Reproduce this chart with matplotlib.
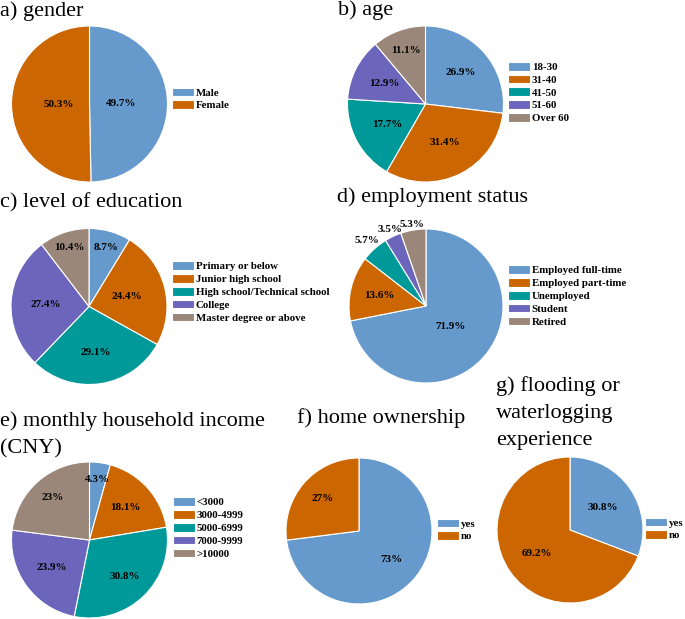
import matplotlib
matplotlib.use("Agg")
import matplotlib.pyplot as plt
import numpy as np

plt.rcParams['font.family'] = ['Liberation Serif', 'DejaVu Serif']

W, H = 685, 619

# colours used by all pies
blue = '#6699cc'
orange = '#cc6600'
teal = '#009999'
purple = '#6b66bb'
brown = '#9a8779'
five = [blue, orange, teal, purple, brown]

# data
gender_labels = ['Male', 'Female']
gender_values = [49.7, 50.3]

age_labels = ['18-30', '31-40', '41-50', '51-60', 'Over 60']
age_values = [26.9, 31.4, 17.7, 12.9, 11.1]

edu_labels = ['Primary or below', 'Junior high school', 'High school/Technical school',
              'College', 'Master degree or above']
edu_values = [8.7, 24.4, 29.1, 27.4, 10.4]

emp_labels = ['Employed full-time', 'Employed part-time', 'Unemployed', 'Student', 'Retired']
emp_values = [71.9, 13.6, 5.7, 3.5, 5.3]

inc_labels = ['<3000', '3000-4999', '5000-6999', '7000-9999', '>10000']
inc_values = [4.3, 18.1, 30.8, 23.9, 23]

home_labels = ['yes', 'no']
home_values = [73, 27]

flood_labels = ['yes', 'no']
flood_values = [30.8, 69.2]

fig = plt.figure(figsize=(W / 100, H / 100), dpi=100)


def draw_pie(cx, cy, r, values, labels, cols, dist, title, tx, ty, lx, ly):
    ax = fig.add_axes([(cx - r) / W, 1 - (cy + r) / H, 2 * r / W, 2 * r / H])
    wedges, _ = ax.pie(values, colors=cols, startangle=90, counterclock=False,
                       wedgeprops=dict(edgecolor='white', linewidth=0.8))
    ax.set_xlim(-1, 1)
    ax.set_ylim(-1, 1)
    for w, v, d in zip(wedges, values, dist):
        a = np.deg2rad((w.theta1 + w.theta2) / 2)
        ax.text(d * np.cos(a), d * np.sin(a), f"{v:g}%", ha='center', va='center',
                fontsize=8, fontweight='bold')
    for k, line in enumerate(title):
        fig.text(tx / W, 1 - (ty + 27 * k) / H, line, fontsize=16,
                 ha='left', va='baseline')
    fig.legend(wedges, labels, loc='center left', bbox_to_anchor=(lx / W, 1 - ly / H),
               frameon=False, prop=dict(weight='bold', size=7.8),
               handlelength=2.0, handleheight=0.85, handletextpad=0.2,
               labelspacing=0.25, borderpad=0, borderaxespad=0)


draw_pie(89.5, 104, 78, gender_values, gender_labels, [blue, orange], [0.4, 0.4],
         ['a) gender'], 0, 16, 172, 99)
draw_pie(425.5, 104, 78, age_values, age_labels, five, [0.6, 0.55, 0.55, 0.59, 0.73],
         ['b) age'], 338, 15, 508, 92.5)
draw_pie(89, 306.5, 78, edu_values, edu_labels, five, [0.79, 0.5, 0.6, 0.55, 0.8],
         ['c) level of education'], 0, 207, 172, 292)
draw_pie(426, 306, 77, emp_values, emp_labels, five, [0.42, 0.62, 1.15, 1.1, 1.07],
         ['d) employment status'], 337, 202, 508, 296)
draw_pie(89.5, 540, 78, inc_values, inc_labels, five, [0.78, 0.62, 0.65, 0.6, 0.72],
         ['e) monthly household income', '(CNY)'], 0, 426, 173, 528)
draw_pie(359, 531, 73, home_values, home_labels, [blue, orange], [0.6, 0.67],
         ['f) home ownership'], 297, 423, 437, 530)
draw_pie(570, 530, 73, flood_values, flood_labels, [blue, orange], [0.55, 0.56],
         ['g) flooding or', 'waterlogging', 'experience'], 496, 391, 645, 529)

fig.savefig('out.png', dpi=100)
